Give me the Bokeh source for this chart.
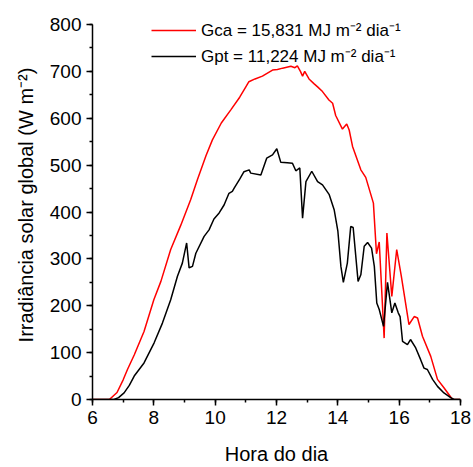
from bokeh.plotting import figure
from bokeh.models import Range1d, SingleIntervalTicker, Legend, LegendItem
from bokeh.embed import file_html
from bokeh.resources import INLINE

# Time of day (hours) and global solar irradiance (W m-2)
hora_gca = [6.0, 6.55, 6.8, 7.0, 7.14, 7.36, 7.68, 8.0, 8.23, 8.55, 8.88, 9.2, 9.42, 9.7,
            9.91, 10.2, 10.51, 10.8, 11.0, 11.1, 11.3, 11.54, 11.87, 12.03, 12.2, 12.47,
            12.6, 12.68, 12.78, 12.85, 12.92, 13.06, 13.22, 13.34, 13.5, 13.71, 13.83,
            13.93, 14.15, 14.29, 14.37, 14.48, 14.75, 14.91, 15.16, 15.26, 15.35, 15.51,
            15.6, 15.76, 15.92, 16.07, 16.32, 16.49, 16.6, 16.76, 17.03, 17.25, 17.46,
            17.74, 18.0]
gca = [0, 0, 15, 42, 64, 95, 145, 213, 252, 320, 372, 426, 469, 520,
       554, 590, 618, 645, 667, 678, 684, 690, 703, 704, 707, 711,
       708, 712, 700, 690, 700, 684, 674, 667, 657, 639, 632,
       606, 577, 588, 575, 540, 490, 474, 419, 311, 336, 131,
       355, 220, 320, 263, 160, 177, 174, 135, 92, 43, 25,
       0, 0]

hora_gpt = [6.0, 6.7, 6.85, 7.03, 7.2, 7.36, 7.68, 8.01, 8.28, 8.55, 8.77, 8.93, 9.07, 9.15,
            9.26, 9.37, 9.64, 9.8, 9.96, 10.13, 10.29, 10.45, 10.56, 10.62, 10.8, 10.94,
            11.11, 11.16, 11.49, 11.68, 11.87, 12.01, 12.14, 12.35, 12.52, 12.63, 12.76,
            12.85, 12.96, 13.15, 13.34, 13.5, 13.72, 13.88, 14.0, 14.1, 14.18, 14.31,
            14.42, 14.5, 14.66, 14.75, 14.86, 14.97, 15.1, 15.19, 15.27, 15.35, 15.49,
            15.62, 15.76, 15.86, 15.97, 16.03, 16.11, 16.27, 16.37, 16.54, 16.7, 16.81,
            16.92, 17.09, 17.25, 17.46, 17.68, 17.79, 18.0]
gpt = [0, 0, 4, 14, 30, 50, 78, 121, 163, 213, 263, 291, 334, 281,
       284, 312, 348, 362, 385, 398, 415, 440, 444, 451, 470, 486,
       490, 483, 479, 515, 522, 535, 506, 505, 504, 488, 494,
       387, 465, 487, 465, 458, 437, 405, 360, 284, 250, 291,
       369, 367, 252, 266, 327, 335, 323, 284, 206, 192, 156,
       250, 185, 206, 185, 177, 124, 117, 128, 110, 85, 67,
       64, 43, 28, 14, 4, 0, 0]

label_gca = "Gca = 15,831 MJ m⁻² dia⁻¹"
label_gpt = "Gpt = 11,224 MJ m⁻² dia⁻¹"
x_label = "Hora do dia"
y_label = "Irradiância solar global (W m⁻²)"

FONT = "Liberation Sans"

# y range extends slightly above 800 so the legend fits inside the frame;
# the y axis line itself is bounded to 0..800 like the reference.
p = figure(width=473, height=467, output_backend="svg", toolbar_location=None,
           x_range=Range1d(6, 18), y_range=Range1d(0, 830),
           min_border_left=92, min_border_right=13, min_border_top=10, min_border_bottom=67)
p.outline_line_color = None
p.grid.grid_line_color = None
p.background_fill_color = "white"
p.border_fill_color = "white"

r1 = p.line(hora_gca, gca, line_color="#ff0000", line_width=1.5)
r2 = p.line(hora_gpt, gpt, line_color="#000000", line_width=1.5)

p.xaxis.ticker = SingleIntervalTicker(interval=2, num_minor_ticks=2)
p.yaxis.ticker = SingleIntervalTicker(interval=100, num_minor_ticks=2)
p.yaxis.bounds = (0, 800)

for ax in (p.xaxis[0], p.yaxis[0]):
    ax.axis_line_width = 1.5
    ax.axis_line_color = "black"
    ax.major_tick_line_width = 1.5
    ax.major_tick_line_color = "black"
    ax.minor_tick_line_width = 1.5
    ax.minor_tick_line_color = "black"
    ax.major_tick_in = 0
    ax.major_tick_out = 6
    ax.minor_tick_in = 0
    ax.minor_tick_out = 3
    ax.major_label_text_font = FONT
    ax.major_label_text_font_size = "19px"
    ax.major_label_text_color = "black"
    ax.axis_label_text_font = FONT
    ax.axis_label_text_font_size = "20px"
    ax.axis_label_text_font_style = "normal"
    ax.axis_label_text_color = "black"
    ax.major_label_standoff = 5

p.xaxis.axis_label = x_label
p.yaxis.axis_label = y_label
p.xaxis.axis_label_standoff = 16
p.yaxis.axis_label_standoff = 10

legend = Legend(items=[LegendItem(label=label_gca, renderers=[r1]),
                       LegendItem(label=label_gpt, renderers=[r2])],
                location=(59, 332), padding=0, margin=0, spacing=3,
                glyph_width=45, glyph_height=20, label_height=20, label_standoff=5,
                label_text_font=FONT, label_text_font_size="17px",
                label_text_color="black",
                border_line_color=None, background_fill_alpha=0)
p.add_layout(legend)

open("out.html", "w").write(file_html(p, INLINE))
